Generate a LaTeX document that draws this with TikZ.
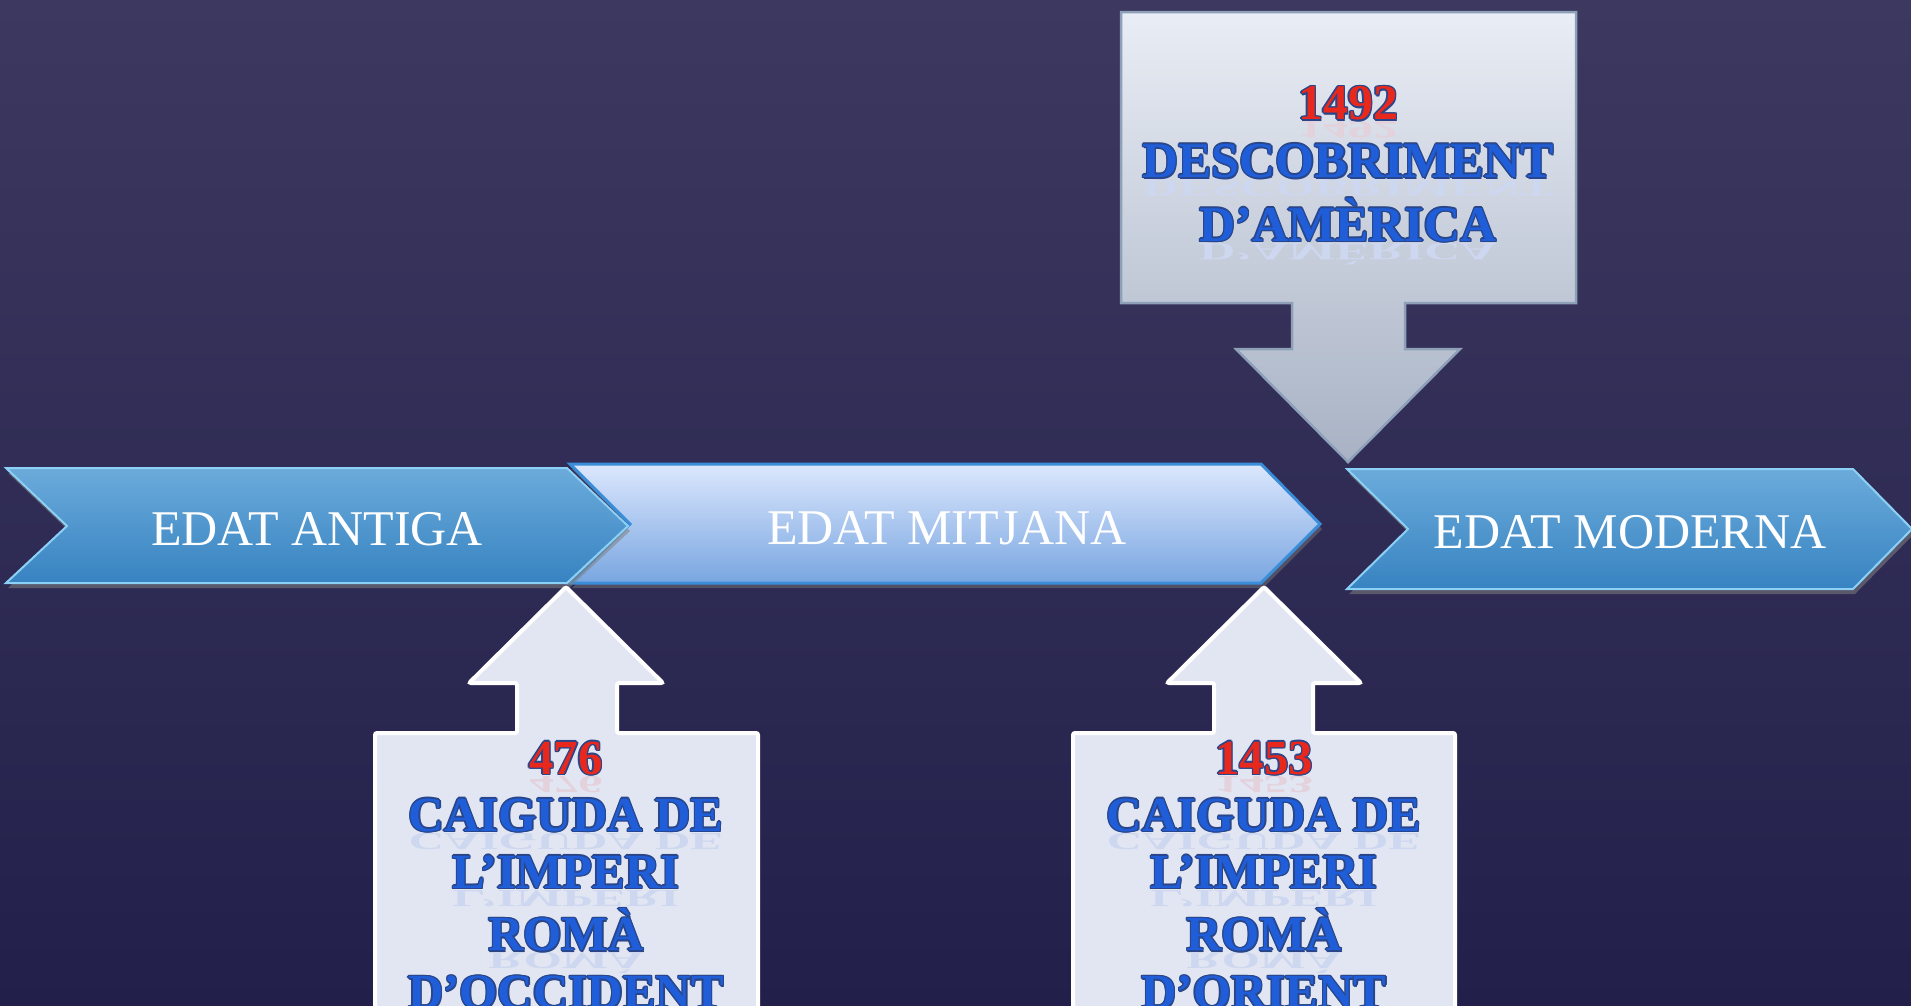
\documentclass[tikz,border=0pt]{standalone}
\usepackage{fontspec}
\setmainfont{Liberation Serif}
\usepackage{graphicx}
\usetikzlibrary{shadows}

\definecolor{bgtop}{HTML}{3D385F}
\definecolor{bgbot}{HTML}{22204B}
\definecolor{agetop}{HTML}{6BABDB}
\definecolor{agebot}{HTML}{3783C1}
\definecolor{ageedge}{HTML}{8DD0F5}
\definecolor{midtop}{HTML}{DCE7FD}
\definecolor{midbot}{HTML}{79A6E1}
\definecolor{midedge}{HTML}{3A8ED9}
\definecolor{calltop}{HTML}{E9EDF5}
\definecolor{callbot}{HTML}{A8B2C4}
\definecolor{calledge}{HTML}{8E9FB8}
\definecolor{callfill}{HTML}{E2E6F2}
\definecolor{textblue}{HTML}{1F5ED8}
\definecolor{rimblue}{HTML}{29468A}
\definecolor{textred}{HTML}{E8281C}

% blue rimmed letters with a faint mirror image below
\newcommand{\rimtext}[2]{%
  \makebox[0pt][l]{\color{#1!11!callfill}\raisebox{-2pt}{\scalebox{1}[-0.5]{#2}}}%
  \makebox[0pt][l]{\color{rimblue}\kern-1.4pt#2}%
  \makebox[0pt][l]{\color{rimblue}\kern1.4pt#2}%
  \makebox[0pt][l]{\color{rimblue}\raisebox{1.4pt}{#2}}%
  \makebox[0pt][l]{\color{rimblue}\raisebox{-1.4pt}{#2}}%
  \makebox[0pt][l]{\color{rimblue}\kern-1pt\raisebox{1pt}{#2}}%
  \makebox[0pt][l]{\color{rimblue}\kern1pt\raisebox{1pt}{#2}}%
  \makebox[0pt][l]{\color{rimblue}\kern-1pt\raisebox{-1pt}{#2}}%
  \makebox[0pt][l]{\color{rimblue}\kern1pt\raisebox{-1.8pt}{#2}}%
  {\color{#1}#2}}

\begin{document}
\begin{tikzpicture}[x=1pt,y=-1pt,
  agearrow/.style={top color=agetop, bottom color=agebot, draw=ageedge, line width=2pt,
    drop shadow={opacity=.55, shadow xshift=2pt, shadow yshift=-5pt}},
  midarrow/.style={top color=midtop, bottom color=midbot, draw=midedge, line width=3pt,
    drop shadow={opacity=.45, shadow xshift=2pt, shadow yshift=-5pt}},
  agelabel/.style={text=white, font=\fontsize{50}{60}\selectfont, anchor=base, inner sep=0pt},
  upcall/.style={fill=callfill, draw=white, line width=4pt, rounded corners=2pt},
  downcall/.style={top color=calltop, bottom color=callbot, draw=calledge, line width=2.5pt},
  calltext/.style={font=\bfseries\fontsize{49}{57}\selectfont, align=center, anchor=north, inner sep=0pt}]

\useasboundingbox (0,0) rectangle (1911,1005);
\clip (0,0) rectangle (1911,1005);
\shade[top color=bgtop, bottom color=bgbot] (0,0) rectangle (1911,1005);

% the three ages
\draw[midarrow] (570,464) -- (1261,464) -- (1320,524) -- (1261,583) -- (570,583) -- (630,524) -- cycle;
\draw[agearrow] (6,468) -- (567,468) -- (628,526) -- (567,583) -- (6,583) -- (67,526) -- cycle;
\draw[agearrow] (1347,469) -- (1853,469) -- (1912,529) -- (1853,589) -- (1347,589) -- (1408,529) -- cycle;

\node[agelabel] (antiga) at (317,545) {EDAT ANTIGA};
\node[agelabel] (mitjana) at (947,544) {EDAT MITJANA};
\node[agelabel] (moderna) at (1630,548) {EDAT MODERNA};

% callouts
\draw[downcall] (1121,12) -- (1576,12) -- (1576,303) -- (1405,303) -- (1405,349) -- (1460,349)
  -- (1348,462) -- (1236,349) -- (1292,349) -- (1292,303) -- (1121,303) -- cycle;
\draw[upcall] (375,1030) -- (375,733) -- (517,733) -- (517,683) -- (469,683) -- (566,587)
  -- (663,683) -- (617,683) -- (617,733) -- (758,733) -- (758,1030) -- cycle;
\draw[upcall] (1073,1030) -- (1073,733) -- (1214,733) -- (1214,683) -- (1167,683) -- (1264,587)
  -- (1361,683) -- (1313,683) -- (1313,733) -- (1455,733) -- (1455,1030) -- cycle;

\node[calltext, font=\bfseries\fontsize{50}{57.5}\selectfont] (america) at (1348,85)
  {\rimtext{textred}{1492}\\ \rimtext{textblue}{DESCOBRIMENT}\\ \rimtext{textblue}{D’AMÈRICA}};
\node[calltext] (occident) at (566,740)
  {\rimtext{textred}{476}\\ \rimtext{textblue}{CAIGUDA DE}\\ \rimtext{textblue}{L’IMPERI}\\
   \rimtext{textblue}{ROMÀ}\\ \rimtext{textblue}{D’OCCIDENT}};
\node[calltext] (orient) at (1264,740)
  {\rimtext{textred}{1453}\\ \rimtext{textblue}{CAIGUDA DE}\\ \rimtext{textblue}{L’IMPERI}\\
   \rimtext{textblue}{ROMÀ}\\ \rimtext{textblue}{D’ORIENT}};

\end{tikzpicture}
\end{document}
